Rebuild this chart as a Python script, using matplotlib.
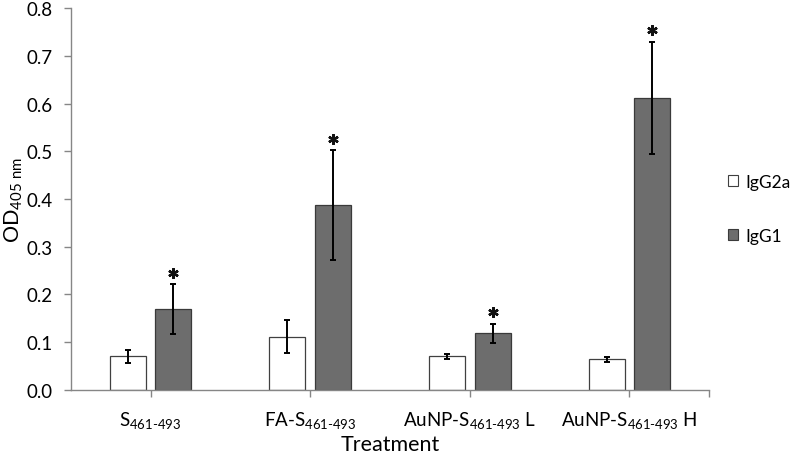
import numpy as np
import matplotlib
matplotlib.use('Agg')
import matplotlib.pyplot as plt
from matplotlib.patches import Patch

plt.rcParams['font.family'] = ['Lato', 'DejaVu Sans']
plt.rcParams['mathtext.fontset'] = 'custom'
plt.rcParams['mathtext.rm'] = 'Lato'
plt.rcParams['mathtext.it'] = 'Lato'
plt.rcParams['mathtext.bf'] = 'Lato'

# Dados
categories = [r'S$_{461\text{-}493}$', r'FA-S$_{461\text{-}493}$',
              r'AuNP-S$_{461\text{-}493}$ L', r'AuNP-S$_{461\text{-}493}$ H']
igg2a = [0.070, 0.111, 0.070, 0.064]
igg2a_err = [0.014, 0.035, 0.005, 0.0055]
igg1 = [0.169, 0.387, 0.118, 0.612]
igg1_err = [0.052, 0.115, 0.020, 0.118]
significant = [True, True, True, True]
yticks = [0.0, 0.1, 0.2, 0.3, 0.4, 0.5, 0.6, 0.7, 0.8]

fig = plt.figure(figsize=(7.91, 4.56), dpi=100)
ax = fig.add_axes([0.0894, 0.1432, 0.8073, 0.8364])

x = np.arange(len(categories))
w = 0.224
off = 0.143
axis_gray = '#868686'
err_style = dict(ecolor='black', elinewidth=1.4, capsize=2.5, capthick=1.4)

ax.bar(x - off, igg2a, w, color='white', edgecolor='#404040', linewidth=0.9,
       yerr=igg2a_err, error_kw=err_style)
ax.bar(x + off, igg1, w, color='#6d6d6d', edgecolor='#3a3a3a', linewidth=0.9,
       yerr=igg1_err, error_kw=err_style)

# Asteriscos de significância (marcador estrela de 6 braços)
for xi, v, e, s in zip(x, igg1, igg1_err, significant):
    if s:
        ax.plot(xi + off, v + e + 0.024, marker=(6, 2, 0), markersize=7.5,
                markeredgewidth=1.7, color='#111111', clip_on=False)

ax.set_xlim(-0.5, 3.5)
ax.set_ylim(0, 0.8)
ax.set_yticks(yticks)
ax.set_yticklabels(['{:.1f}'.format(t) for t in yticks])
ax.set_xticks(x)
ax.set_xticklabels(categories)
ax.set_xticks([3.5], minor=True)

for side in ['top', 'right']:
    ax.spines[side].set_visible(False)
for side in ['left', 'bottom']:
    ax.spines[side].set_color(axis_gray)
    ax.spines[side].set_linewidth(1.0)
ax.tick_params(axis='both', which='both', colors=axis_gray, length=5, width=1.0,
               labelcolor='black', labelsize=13.5)
ax.tick_params(axis='x', pad=9)
ax.tick_params(axis='y', pad=8)

ax.set_xlabel('Treatment', fontsize=15.5, labelpad=3)
ax.set_ylabel(r'OD$_{405\ \mathrm{nm}}$', fontsize=15.5, labelpad=1)

handles = [Patch(facecolor='white', edgecolor='#404040', linewidth=0.8),
           Patch(facecolor='#6d6d6d', edgecolor='#3a3a3a', linewidth=0.8)]
fig.legend(handles, ['IgG2a', 'IgG1'], loc='center left',
           bbox_to_anchor=(0.9, 0.54), frameon=False, fontsize=12.5,
           handlelength=0.6, handleheight=0.6, handletextpad=0.4, labelspacing=2.2)

fig.savefig('out.png', dpi=100)
